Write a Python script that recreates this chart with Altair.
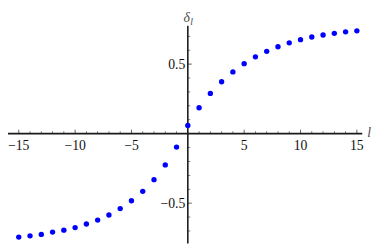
import altair as alt
import pandas as pd

l_vals = list(range(-15, 16))
delta_vals = [-0.744, -0.735, -0.725, -0.708, -0.694, -0.676, -0.650, -0.622,
              -0.585, -0.539, -0.483, -0.415, -0.331, -0.225, -0.097, 0.059,
              0.186, 0.289, 0.373, 0.444, 0.503, 0.552, 0.592, 0.625, 0.653,
              0.676, 0.695, 0.709, 0.721, 0.732, 0.739]

x_major = [-15, -10, -5, 5, 10, 15]
x_labels = ["\u221215", "\u221210", "\u22125", "5", "10", "15"]
x_minor = [v for v in range(-15, 16) if v % 5 != 0]
y_major = [-0.5, 0.5]
y_labels = ["\u22120.5", "0.5"]
y_minor = [-0.7, -0.6, -0.4, -0.3, -0.2, -0.1, 0.1, 0.2, 0.3, 0.4, 0.6, 0.7]

X_DOMAIN = [-15.955, 15.478]
Y_DOMAIN = [-0.79, 0.885]
X_AXIS_EXTENT = [-15.955, 15.478]
Y_AXIS_EXTENT = [-0.79, 0.775]

xs = alt.Scale(domain=X_DOMAIN, nice=False, zero=False)
ys = alt.Scale(domain=Y_DOMAIN, nice=False, zero=False)

FONT = "Liberation Serif"
AXC = "#1a1a1a"
TITLEC = "#4d4d4d"

pts = pd.DataFrame({"l": l_vals, "d": delta_vals})

points = alt.Chart(pts).mark_circle(size=30, color="#0000ff", opacity=1).encode(
    x=alt.X("l:Q", scale=xs, axis=None),
    y=alt.Y("d:Q", scale=ys, axis=None),
)

xaxis = alt.Chart(pd.DataFrame({"a": [X_AXIS_EXTENT[0]], "b": [X_AXIS_EXTENT[1]], "y": [0]})).mark_rule(
    color=AXC, strokeWidth=1.6).encode(
    x=alt.X("a:Q", scale=xs, axis=None), x2="b:Q", y=alt.Y("y:Q", scale=ys, axis=None))

yaxis = alt.Chart(pd.DataFrame({"a": [Y_AXIS_EXTENT[0]], "b": [Y_AXIS_EXTENT[1]], "x": [0]})).mark_rule(
    color=AXC, strokeWidth=1.6).encode(
    y=alt.Y("a:Q", scale=ys, axis=None), y2="b:Q", x=alt.X("x:Q", scale=xs, axis=None))

xmaj = pd.DataFrame({"v": x_major, "t": x_labels, "z": [0] * len(x_major)})
xmin = pd.DataFrame({"v": x_minor, "z": [0] * len(x_minor)})
ymaj = pd.DataFrame({"v": y_major, "t": y_labels, "z": [0] * len(y_major)})
ymin = pd.DataFrame({"v": y_minor, "z": [0] * len(y_minor)})

xmaj_ticks = alt.Chart(xmaj).mark_tick(orient="vertical", size=4, thickness=1, color=AXC, yOffset=-2).encode(
    x=alt.X("v:Q", scale=xs, axis=None), y=alt.Y("z:Q", scale=ys, axis=None))
xmin_ticks = alt.Chart(xmin).mark_tick(orient="vertical", size=2.5, thickness=0.8, color=AXC, yOffset=-1.25).encode(
    x=alt.X("v:Q", scale=xs, axis=None), y=alt.Y("z:Q", scale=ys, axis=None))
ymaj_ticks = alt.Chart(ymaj).mark_tick(orient="horizontal", size=4, thickness=1, color=AXC, xOffset=2).encode(
    y=alt.Y("v:Q", scale=ys, axis=None), x=alt.X("z:Q", scale=xs, axis=None))
ymin_ticks = alt.Chart(ymin).mark_tick(orient="horizontal", size=2.5, thickness=0.8, color=AXC, xOffset=1.25).encode(
    y=alt.Y("v:Q", scale=ys, axis=None), x=alt.X("z:Q", scale=xs, axis=None))

xlab = alt.Chart(xmaj).mark_text(font=FONT, fontSize=14, color="#111", baseline="middle", dy=12.5).encode(
    x=alt.X("v:Q", scale=xs, axis=None), y=alt.Y("z:Q", scale=ys, axis=None), text="t:N")
ylab = alt.Chart(ymaj).mark_text(font=FONT, fontSize=14, color="#111", baseline="middle", align="right", dx=-2.5, dy=0.5).encode(
    y=alt.Y("v:Q", scale=ys, axis=None), x=alt.X("z:Q", scale=xs, axis=None), text="t:N")

xtitle = alt.Chart(pd.DataFrame({"x": [X_AXIS_EXTENT[1]], "y": [0], "t": ["l"]})).mark_text(
    font=FONT, fontSize=14, fontStyle="italic", color=TITLEC, align="left", baseline="alphabetic", dx=5, dy=3).encode(
    x=alt.X("x:Q", scale=xs, axis=None), y=alt.Y("y:Q", scale=ys, axis=None), text="t:N")
ytitle = alt.Chart(pd.DataFrame({"x": [0], "y": [Y_AXIS_EXTENT[1]], "t": ["\u03b4"]})).mark_text(
    font=FONT, fontSize=14, fontStyle="italic", color=TITLEC, align="right", baseline="alphabetic", dx=2, dy=-4).encode(
    x=alt.X("x:Q", scale=xs, axis=None), y=alt.Y("y:Q", scale=ys, axis=None), text="t:N")
ysub = alt.Chart(pd.DataFrame({"x": [0], "y": [Y_AXIS_EXTENT[1]], "t": ["l"]})).mark_text(
    font=FONT, fontSize=10, fontStyle="italic", color=TITLEC, align="left", baseline="alphabetic", dx=2.5, dy=-1).encode(
    x=alt.X("x:Q", scale=xs, axis=None), y=alt.Y("y:Q", scale=ys, axis=None), text="t:N")

chart = alt.layer(
    xaxis, yaxis, xmin_ticks, xmaj_ticks, ymin_ticks, ymaj_ticks,
    xlab, ylab, xtitle, ytitle, ysub, points
).properties(
    width=362, height=238,
    autosize=alt.AutoSizeParams(type="none"),
    padding={"left": 0, "top": 0, "right": 12, "bottom": 2},
).configure_view(stroke=None)

chart.save("out.html", embed_options={"renderer": "svg", "actions": False})
